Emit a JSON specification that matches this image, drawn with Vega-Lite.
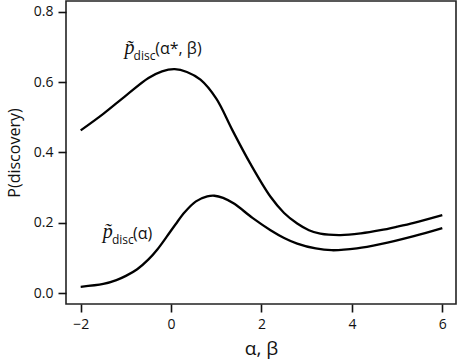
{
  "$schema": "https://vega.github.io/schema/vega-lite/v6.json",
  "width": 390,
  "height": 303,
  "autosize": "none",
  "padding": {"left": 66, "top": 1, "right": 1, "bottom": 60},
  "background": "white",
  "config": {
    "view": {"stroke": "#222", "strokeWidth": 1.6},
    "axis": {
      "domain": false,
      "grid": false,
      "tickColor": "#111",
      "tickWidth": 1.6,
      "tickSize": 8,
      "labelFont": "Open Sans",
      "labelFontSize": 14,
      "labelColor": "#111",
      "titleFont": "Open Sans",
      "titleFontWeight": "normal",
      "titleColor": "#111"
    }
  },
  "datasets": {
    "curves": [
      {"x": -2.0, "p": 0.463, "series": "alphastar_beta"},
      {"x": -1.5, "p": 0.51, "series": "alphastar_beta"},
      {"x": -1.0, "p": 0.562, "series": "alphastar_beta"},
      {"x": -0.5, "p": 0.612, "series": "alphastar_beta"},
      {"x": -0.2, "p": 0.631, "series": "alphastar_beta"},
      {"x": 0.08, "p": 0.637, "series": "alphastar_beta"},
      {"x": 0.35, "p": 0.629, "series": "alphastar_beta"},
      {"x": 0.65, "p": 0.607, "series": "alphastar_beta"},
      {"x": 1.0, "p": 0.553, "series": "alphastar_beta"},
      {"x": 1.35, "p": 0.465, "series": "alphastar_beta"},
      {"x": 1.75, "p": 0.369, "series": "alphastar_beta"},
      {"x": 2.2, "p": 0.274, "series": "alphastar_beta"},
      {"x": 2.5, "p": 0.228, "series": "alphastar_beta"},
      {"x": 2.79, "p": 0.198, "series": "alphastar_beta"},
      {"x": 3.05, "p": 0.179, "series": "alphastar_beta"},
      {"x": 3.3, "p": 0.169, "series": "alphastar_beta"},
      {"x": 3.75, "p": 0.165, "series": "alphastar_beta"},
      {"x": 4.2, "p": 0.17, "series": "alphastar_beta"},
      {"x": 4.63, "p": 0.179, "series": "alphastar_beta"},
      {"x": 5.0, "p": 0.189, "series": "alphastar_beta"},
      {"x": 5.37, "p": 0.2, "series": "alphastar_beta"},
      {"x": 6.0, "p": 0.222, "series": "alphastar_beta"},
      {"x": -2.0, "p": 0.018, "series": "alpha"},
      {"x": -1.5, "p": 0.026, "series": "alpha"},
      {"x": -1.21, "p": 0.037, "series": "alpha"},
      {"x": -1.0, "p": 0.049, "series": "alpha"},
      {"x": -0.75, "p": 0.068, "series": "alpha"},
      {"x": -0.5, "p": 0.096, "series": "alpha"},
      {"x": -0.3, "p": 0.125, "series": "alpha"},
      {"x": -0.1, "p": 0.16, "series": "alpha"},
      {"x": 0.1, "p": 0.196, "series": "alpha"},
      {"x": 0.3, "p": 0.23, "series": "alpha"},
      {"x": 0.55, "p": 0.261, "series": "alpha"},
      {"x": 0.8, "p": 0.275, "series": "alpha"},
      {"x": 0.96, "p": 0.277, "series": "alpha"},
      {"x": 1.15, "p": 0.271, "series": "alpha"},
      {"x": 1.4, "p": 0.254, "series": "alpha"},
      {"x": 1.8, "p": 0.214, "series": "alpha"},
      {"x": 2.2, "p": 0.179, "series": "alpha"},
      {"x": 2.5, "p": 0.157, "series": "alpha"},
      {"x": 2.79, "p": 0.141, "series": "alpha"},
      {"x": 3.2, "p": 0.127, "series": "alpha"},
      {"x": 3.55, "p": 0.122, "series": "alpha"},
      {"x": 4.11, "p": 0.127, "series": "alpha"},
      {"x": 4.63, "p": 0.139, "series": "alpha"},
      {"x": 5.37, "p": 0.162, "series": "alpha"},
      {"x": 6.0, "p": 0.185, "series": "alpha"}
    ]
  },
  "layer": [
    {
      "data": {"name": "curves"},
      "mark": {"type": "line", "color": "#000", "strokeWidth": 2.3, "interpolate": "catmull-rom"},
      "encoding": {
        "x": {
          "field": "x", "type": "quantitative",
          "scale": {"domain": [-2.325, 6.303], "nice": false, "zero": false},
          "axis": {"values": [-2, 0, 2, 4, 6], "title": "α, β", "titleFontSize": 19, "labelPadding": 5, "titlePadding": 8}
        },
        "y": {
          "field": "p", "type": "quantitative",
          "scale": {"domain": [-0.031, 0.831], "nice": false, "zero": false},
          "axis": {"values": [0, 0.2, 0.4, 0.6, 0.8], "format": ".1f", "title": "P(discovery)", "titleFontSize": 16, "labelPadding": 5, "titlePadding": 11}
        },
        "detail": {"field": "series"}
      }
    },
    {
      "data": {"values": [{"x": -1.03, "p": 0.68}]},
      "mark": {"type": "text", "text": "p̃", "font": "Liberation Serif", "fontStyle": "italic", "fontSize": 20, "align": "left", "baseline": "alphabetic", "color": "#111"},
      "encoding": {"x": {"field": "x", "type": "quantitative"}, "y": {"field": "p", "type": "quantitative"}}
    },
    {
      "data": {"values": [{"x": -0.83, "p": 0.664}]},
      "mark": {"type": "text", "text": "disc", "font": "Open Sans", "fontSize": 12, "align": "left", "baseline": "alphabetic", "color": "#111"},
      "encoding": {"x": {"field": "x", "type": "quantitative"}, "y": {"field": "p", "type": "quantitative"}}
    },
    {
      "data": {"values": [{"x": -0.35, "p": 0.68}]},
      "mark": {"type": "text", "text": "(α*, β)", "font": "Open Sans", "fontSize": 16, "align": "left", "baseline": "alphabetic", "color": "#111"},
      "encoding": {"x": {"field": "x", "type": "quantitative"}, "y": {"field": "p", "type": "quantitative"}}
    },
    {
      "data": {"values": [{"x": -1.51, "p": 0.157}]},
      "mark": {"type": "text", "text": "p̃", "font": "Liberation Serif", "fontStyle": "italic", "fontSize": 20, "align": "left", "baseline": "alphabetic", "color": "#111"},
      "encoding": {"x": {"field": "x", "type": "quantitative"}, "y": {"field": "p", "type": "quantitative"}}
    },
    {
      "data": {"values": [{"x": -1.31, "p": 0.139}]},
      "mark": {"type": "text", "text": "disc", "font": "Open Sans", "fontSize": 12, "align": "left", "baseline": "alphabetic", "color": "#111"},
      "encoding": {"x": {"field": "x", "type": "quantitative"}, "y": {"field": "p", "type": "quantitative"}}
    },
    {
      "data": {"values": [{"x": -0.84, "p": 0.155}]},
      "mark": {"type": "text", "text": "(α)", "font": "Open Sans", "fontSize": 16, "align": "left", "baseline": "alphabetic", "color": "#111"},
      "encoding": {"x": {"field": "x", "type": "quantitative"}, "y": {"field": "p", "type": "quantitative"}}
    }
  ]
}
